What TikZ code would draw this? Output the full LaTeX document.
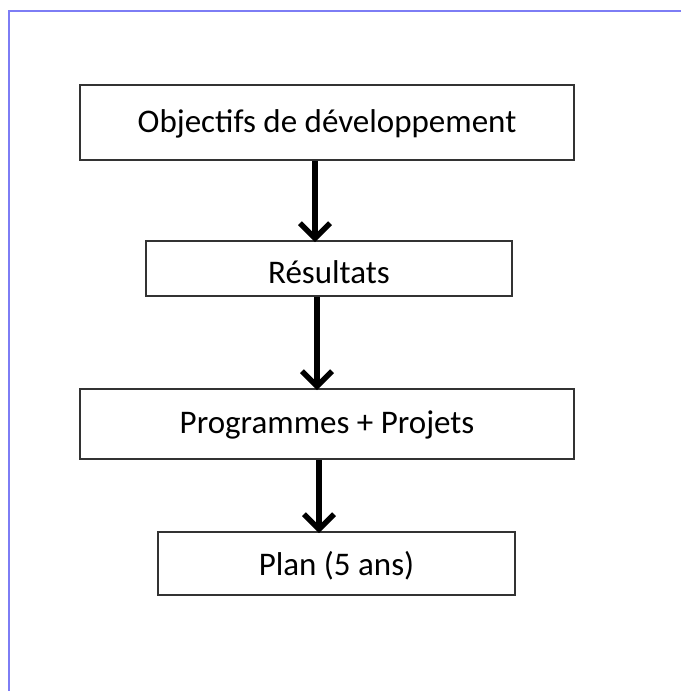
\documentclass[tikz,border=0pt]{standalone}
\usepackage{fontspec}
\setmainfont{Carlito}
\usetikzlibrary{arrows.meta}
\tikzset{
  stepbox/.style={draw=black!80, line width=1.8pt, minimum height=#1, inner sep=0pt, text height=25pt, text depth=6pt},
  flow/.style={line width=5.5pt, -{Straight Barb[length=15pt, width=30pt, line width=5.5pt]}, shorten >=-2pt}
}
\begin{document}
\begin{tikzpicture}[x=1pt, y=-1pt, every node/.style={font=\fontsize{33}{36}\selectfont}]
\definecolor{framebl}{RGB}{125,125,245}
\useasboundingbox (0,0) rectangle (681,691);
% Frame
\draw[framebl, line width=2pt] (681,11) -- (9,11) -- (9,691);
% Boxes
\node[stepbox=75pt, minimum width=494pt] (obj) at (327,122.5) {Objectifs de développement};
\node[stepbox=55pt, minimum width=366pt, text height=29pt, text depth=0pt] (res) at (329,268.5) {Résultats};
\node[stepbox=70pt, minimum width=494pt] (prog) at (327,424) {Programmes + Projets};
\node[stepbox=63pt, minimum width=357pt, text depth=2pt] (plan) at (336.5,563.5) {Plan (5 ans)};
% Arrows
\draw[flow] ([xshift=-12pt]obj.south) -- ([xshift=-14pt]res.north);
\draw[flow] ([xshift=-12pt]res.south) -- ([xshift=-10pt]prog.north);
\draw[flow] ([xshift=-8pt]prog.south) -- ([xshift=-17.5pt]plan.north);
\end{tikzpicture}
\end{document}
